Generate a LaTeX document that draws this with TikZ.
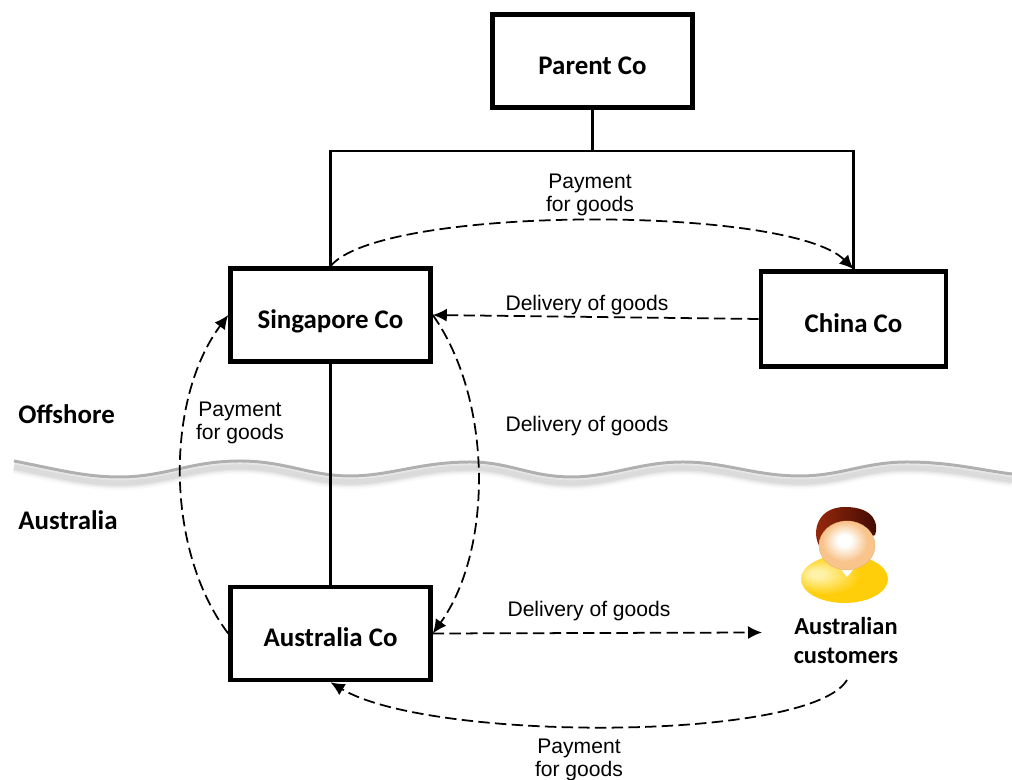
\documentclass[tikz,border=0pt]{standalone}
\usepackage{fontspec}
\setmainfont{Liberation Sans}
\newfontfamily\boldlabel[BoldFont={Carlito Bold}]{Carlito}
\usetikzlibrary{arrows.meta}
\definecolor{wavegray}{HTML}{B0B0B0}
\definecolor{hairred}{HTML}{9E2A0C}
\definecolor{hairdark}{HTML}{3E0A02}
\definecolor{bodygold}{HTML}{FFCE0A}
\definecolor{bodypale}{HTML}{FFF2A8}
\definecolor{headtan}{HTML}{F8C48C}
\pgfdeclareradialshading{bodyshade}{\pgfpoint{-0.6cm}{0.2cm}}{color(0bp)=(bodypale); color(4bp)=(bodypale); color(20bp)=(bodygold); color(60bp)=(bodygold)}
\pgfdeclareradialshading{headshade}{\pgfpoint{-0.1cm}{0.2cm}}{color(0bp)=(white); color(6bp)=(white); color(20bp)=(headtan); color(60bp)=(headtan)}
\newcommand{\wavepath}{(0.28,6.38) .. controls (1.2,6.2) and (1.7,6.06) .. (2.4,6.06) .. controls (3.3,6.06) and (3.8,6.38) .. (4.8,6.38) .. controls (5.7,6.38) and (6.2,6.08) .. (7.0,6.08) .. controls (7.8,6.08) and (8.4,6.36) .. (9.4,6.36) .. controls (10.2,6.36) and (10.6,6.06) .. (11.44,6.06) .. controls (12.2,6.06) and (12.8,6.36) .. (13.66,6.36) .. controls (14.5,6.36) and (15.1,6.08) .. (16.0,6.08) .. controls (16.8,6.08) and (17.3,6.36) .. (18.14,6.36) .. controls (19.0,6.36) and (19.6,6.2) .. (20.24,6.12)}
\begin{document}
\begin{tikzpicture}[
    company/.style={draw,line width=2.6pt,minimum width=4cm,minimum height=1.86cm,text height=15pt,text depth=0pt,font=\boldlabel\fontsize{15.3}{18}\selectfont\bfseries},
    region/.style={anchor=west,inner sep=0pt,font=\boldlabel\fontsize{15.3}{18}\selectfont\bfseries},
    flowlabel/.style={align=center,inner sep=0pt,font=\fontsize{12}{13}\selectfont},
    owns/.style={line width=1.3pt},
    flow/.style={line width=1pt,dash pattern=on 6.5pt off 3pt,-{Latex[length=2.8mm,width=2.6mm]}}
  ]
    \useasboundingbox (0,0) rectangle (20.24,15.6);

    \foreach \w/\o in {8/0.05,6/0.07,4.5/0.09,3/0.11}
      \draw[gray,line width=\w pt,opacity=\o,yshift=-0.12cm] \wavepath;
    \draw[wavegray,line width=1.7pt] \wavepath;

    \node[company] (parent) at (11.85,14.38) {Parent Co};
    \node[company] (sing) at (6.61,9.3) {Singapore Co};
    \node[company,minimum width=3.7cm,minimum height=1.9cm] (china) at (17.07,9.22) {China Co};
    \node[company] (aus) at (6.61,2.93) {Australia Co};

    \coordinate (bar) at (11.85,12.58);
    \coordinate (custin) at (15.24,2.95);
    \coordinate (custout) at (16.94,2.0);

    \draw[owns] (parent) -- (bar);
    \draw[owns] (sing.north) |- (bar) -| (china.north);
    \draw[owns] (sing) -- (aus);

    \draw[flow] (sing.north) .. controls (7.6,11.5) and (15.8,11.5) .. (china.north);
    \draw[flow] (china.west) -- (sing.east);
    \draw[flow] (sing.east) .. controls (9.86,7.6) and (9.86,4.6) .. (aus.east);
    \draw[flow] (aus.west) .. controls (3.3,4.6) and (3.3,7.6) .. (sing.west);
    \draw[flow] (aus.east) -- (custin);
    \draw[flow] (custout) .. controls (16.2,0.76) and (8.6,0.76) .. (aus.south);

    \node[flowlabel] (paytop) at (11.8,11.7) {Payment\\for goods};
    \node[flowlabel] (delchina) at (11.74,9.5) {Delivery of goods};
    \node[flowlabel] (delsing) at (11.74,7.08) {Delivery of goods};
    \node[flowlabel] (payleft) at (4.8,7.14) {Payment\\for goods};
    \node[flowlabel] (delcust) at (11.78,3.38) {Delivery of goods};
    \node[flowlabel] (paybot) at (11.58,0.4) {Payment\\for goods};

    \node[region] (offshore) at (0.36,7.32) {Offshore};
    \node[region] (australia) at (0.36,5.2) {Australia};

    \shade[shading=bodyshade] (16.89,4.02) ellipse (0.87cm and 0.48cm);
    \fill[white] (16.76,4.3) -- (17.14,4.3) -- (16.94,4.06) -- cycle;
    \shade[left color=hairred,right color=hairdark] (16.43,4.62) .. controls (16.22,4.85) and (16.28,5.46) .. (16.9,5.46) .. controls (17.5,5.46) and (17.58,5.1) .. (17.5,4.9) -- (16.94,4.7) -- cycle;
    \shade[shading=headshade,draw=headtan!70!brown,line width=0.2pt] (16.94,4.69) ellipse (0.56cm and 0.49cm);

    \node[align=center,inner sep=0pt,font=\boldlabel\fontsize{13.9}{17}\selectfont\bfseries] (cust) at (16.92,2.79) {Australian\\customers};
\end{tikzpicture}
\end{document}
